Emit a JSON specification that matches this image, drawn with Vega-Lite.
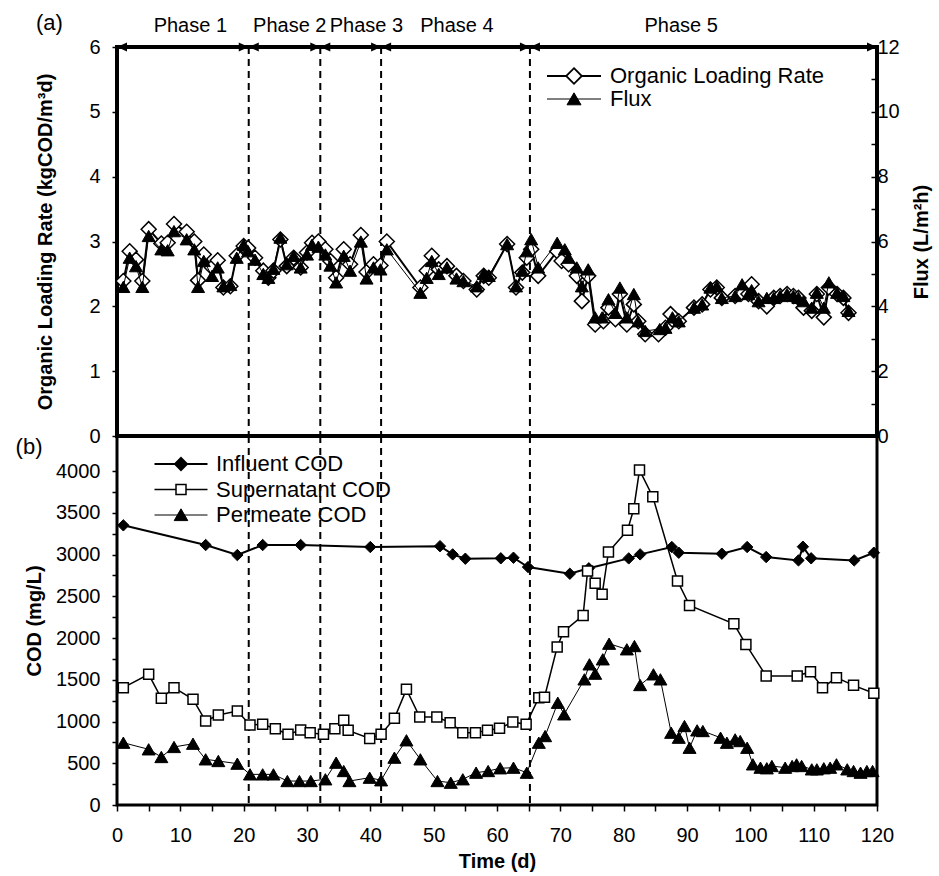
{
  "$schema": "https://vega.github.io/schema/vega-lite/v6.json",
  "background": "white",
  "padding": {"left": 13, "top": 10, "right": 5, "bottom": 5},
  "spacing": 0,
  "bounds": "flush",
  "config": {
    "font": "Liberation Sans",
    "view": {"stroke": "black", "strokeWidth": 4},
    "axis": {
      "grid": false, "labelFont": "Liberation Sans", "titleFont": "Liberation Sans",
      "labelColor": "black", "titleColor": "black", "tickColor": "black",
      "labelFontSize": 20, "titleFontSize": 20, "titleFontWeight": "bold",
      "tickWidth": 1.5, "labelFlush": false, "labelOverlap": false, "labelBound": false
    },
    "legend": {"labelFont": "Liberation Sans", "labelFontSize": 22, "labelColor": "black", "labelLimit": 0}
  },
  "datasets": {
    "phases": [
      {"phase": "Phase 1", "start": 0, "end": 20.8},
      {"phase": "Phase 2", "start": 20.8, "end": 32.1},
      {"phase": "Phase 3", "start": 32.1, "end": 41.7},
      {"phase": "Phase 4", "start": 41.7, "end": 65.2},
      {"phase": "Phase 5", "start": 65.2, "end": 120}
    ],
    "top": [
      {"series": "Organic Loading Rate", "day": 1, "value": 2.39},
      {"series": "Organic Loading Rate", "day": 2, "value": 2.85},
      {"series": "Organic Loading Rate", "day": 3, "value": 2.72},
      {"series": "Organic Loading Rate", "day": 4, "value": 2.39},
      {"series": "Organic Loading Rate", "day": 5, "value": 3.19},
      {"series": "Organic Loading Rate", "day": 7, "value": 2.97},
      {"series": "Organic Loading Rate", "day": 8, "value": 2.98},
      {"series": "Organic Loading Rate", "day": 9, "value": 3.27},
      {"series": "Organic Loading Rate", "day": 11, "value": 3.15},
      {"series": "Organic Loading Rate", "day": 12.2, "value": 3.0},
      {"series": "Organic Loading Rate", "day": 12.8, "value": 2.4},
      {"series": "Organic Loading Rate", "day": 13.7, "value": 2.8},
      {"series": "Organic Loading Rate", "day": 15, "value": 2.6},
      {"series": "Organic Loading Rate", "day": 15.9, "value": 2.71},
      {"series": "Organic Loading Rate", "day": 16.8, "value": 2.29},
      {"series": "Organic Loading Rate", "day": 17.9, "value": 2.31},
      {"series": "Organic Loading Rate", "day": 18.9, "value": 2.78},
      {"series": "Organic Loading Rate", "day": 20, "value": 2.93},
      {"series": "Organic Loading Rate", "day": 20.7, "value": 2.9},
      {"series": "Organic Loading Rate", "day": 21.8, "value": 2.75},
      {"series": "Organic Loading Rate", "day": 23.1, "value": 2.55},
      {"series": "Organic Loading Rate", "day": 23.9, "value": 2.44},
      {"series": "Organic Loading Rate", "day": 24.7, "value": 2.55},
      {"series": "Organic Loading Rate", "day": 25.8, "value": 3.03},
      {"series": "Organic Loading Rate", "day": 26.8, "value": 2.62},
      {"series": "Organic Loading Rate", "day": 27.9, "value": 2.75},
      {"series": "Organic Loading Rate", "day": 29, "value": 2.6},
      {"series": "Organic Loading Rate", "day": 30, "value": 2.83},
      {"series": "Organic Loading Rate", "day": 30.8, "value": 2.98},
      {"series": "Organic Loading Rate", "day": 31.8, "value": 3.0},
      {"series": "Organic Loading Rate", "day": 32.9, "value": 2.88},
      {"series": "Organic Loading Rate", "day": 33.7, "value": 2.7},
      {"series": "Organic Loading Rate", "day": 34.6, "value": 2.44},
      {"series": "Organic Loading Rate", "day": 35.8, "value": 2.88},
      {"series": "Organic Loading Rate", "day": 36.8, "value": 2.65},
      {"series": "Organic Loading Rate", "day": 38.5, "value": 3.1},
      {"series": "Organic Loading Rate", "day": 39.4, "value": 2.53},
      {"series": "Organic Loading Rate", "day": 40.5, "value": 2.65},
      {"series": "Organic Loading Rate", "day": 41.6, "value": 2.63},
      {"series": "Organic Loading Rate", "day": 42.6, "value": 3.0},
      {"series": "Organic Loading Rate", "day": 47.9, "value": 2.29},
      {"series": "Organic Loading Rate", "day": 48.9, "value": 2.55},
      {"series": "Organic Loading Rate", "day": 49.7, "value": 2.78},
      {"series": "Organic Loading Rate", "day": 50.8, "value": 2.57},
      {"series": "Organic Loading Rate", "day": 52.1, "value": 2.62},
      {"series": "Organic Loading Rate", "day": 53.6, "value": 2.47},
      {"series": "Organic Loading Rate", "day": 54.7, "value": 2.39},
      {"series": "Organic Loading Rate", "day": 56.8, "value": 2.26},
      {"series": "Organic Loading Rate", "day": 57.9, "value": 2.47},
      {"series": "Organic Loading Rate", "day": 58.7, "value": 2.44},
      {"series": "Organic Loading Rate", "day": 61.6, "value": 2.96},
      {"series": "Organic Loading Rate", "day": 63, "value": 2.29},
      {"series": "Organic Loading Rate", "day": 64, "value": 2.52},
      {"series": "Organic Loading Rate", "day": 64.7, "value": 2.75},
      {"series": "Organic Loading Rate", "day": 65.4, "value": 2.88},
      {"series": "Organic Loading Rate", "day": 66.5, "value": 2.47},
      {"series": "Organic Loading Rate", "day": 69.5, "value": 2.85},
      {"series": "Organic Loading Rate", "day": 70.2, "value": 2.7},
      {"series": "Organic Loading Rate", "day": 71.3, "value": 2.65},
      {"series": "Organic Loading Rate", "day": 72.6, "value": 2.47},
      {"series": "Organic Loading Rate", "day": 73.4, "value": 2.08},
      {"series": "Organic Loading Rate", "day": 74.4, "value": 2.47},
      {"series": "Organic Loading Rate", "day": 75.5, "value": 1.72},
      {"series": "Organic Loading Rate", "day": 76.8, "value": 1.77},
      {"series": "Organic Loading Rate", "day": 77.6, "value": 1.98},
      {"series": "Organic Loading Rate", "day": 78.7, "value": 1.8},
      {"series": "Organic Loading Rate", "day": 79.4, "value": 2.19},
      {"series": "Organic Loading Rate", "day": 80.5, "value": 1.72},
      {"series": "Organic Loading Rate", "day": 81.6, "value": 2.03},
      {"series": "Organic Loading Rate", "day": 82.3, "value": 1.77},
      {"series": "Organic Loading Rate", "day": 83.4, "value": 1.57},
      {"series": "Organic Loading Rate", "day": 85.5, "value": 1.57},
      {"series": "Organic Loading Rate", "day": 86.6, "value": 1.67},
      {"series": "Organic Loading Rate", "day": 87.4, "value": 1.88},
      {"series": "Organic Loading Rate", "day": 88.7, "value": 1.77},
      {"series": "Organic Loading Rate", "day": 91.1, "value": 1.98},
      {"series": "Organic Loading Rate", "day": 92.4, "value": 2.03},
      {"series": "Organic Loading Rate", "day": 93.7, "value": 2.26},
      {"series": "Organic Loading Rate", "day": 94.7, "value": 2.29},
      {"series": "Organic Loading Rate", "day": 95.5, "value": 2.13},
      {"series": "Organic Loading Rate", "day": 97.6, "value": 2.16},
      {"series": "Organic Loading Rate", "day": 98.7, "value": 2.21},
      {"series": "Organic Loading Rate", "day": 99.7, "value": 2.19},
      {"series": "Organic Loading Rate", "day": 100.2, "value": 2.34},
      {"series": "Organic Loading Rate", "day": 101.3, "value": 2.08},
      {"series": "Organic Loading Rate", "day": 102.6, "value": 2.0},
      {"series": "Organic Loading Rate", "day": 103.7, "value": 2.13},
      {"series": "Organic Loading Rate", "day": 104.7, "value": 2.16},
      {"series": "Organic Loading Rate", "day": 105.8, "value": 2.19},
      {"series": "Organic Loading Rate", "day": 106.8, "value": 2.16},
      {"series": "Organic Loading Rate", "day": 107.6, "value": 2.13},
      {"series": "Organic Loading Rate", "day": 108.4, "value": 1.98},
      {"series": "Organic Loading Rate", "day": 109.7, "value": 1.93},
      {"series": "Organic Loading Rate", "day": 110.5, "value": 2.19},
      {"series": "Organic Loading Rate", "day": 111.6, "value": 1.83},
      {"series": "Organic Loading Rate", "day": 112.4, "value": 2.29},
      {"series": "Organic Loading Rate", "day": 113.7, "value": 2.19},
      {"series": "Organic Loading Rate", "day": 114.7, "value": 2.13},
      {"series": "Organic Loading Rate", "day": 115.5, "value": 1.9},
      {"series": "Flux", "day": 1, "value": 4.6},
      {"series": "Flux", "day": 2, "value": 5.5},
      {"series": "Flux", "day": 3, "value": 5.24},
      {"series": "Flux", "day": 4, "value": 4.6},
      {"series": "Flux", "day": 5, "value": 6.17},
      {"series": "Flux", "day": 7, "value": 5.76},
      {"series": "Flux", "day": 8, "value": 5.73},
      {"series": "Flux", "day": 9, "value": 6.32},
      {"series": "Flux", "day": 11, "value": 6.07},
      {"series": "Flux", "day": 12.2, "value": 5.76},
      {"series": "Flux", "day": 12.8, "value": 4.6},
      {"series": "Flux", "day": 13.7, "value": 5.4},
      {"series": "Flux", "day": 15, "value": 4.94},
      {"series": "Flux", "day": 15.9, "value": 5.2},
      {"series": "Flux", "day": 16.8, "value": 4.62},
      {"series": "Flux", "day": 17.9, "value": 4.66},
      {"series": "Flux", "day": 18.9, "value": 5.5},
      {"series": "Flux", "day": 20, "value": 5.9},
      {"series": "Flux", "day": 20.7, "value": 5.7},
      {"series": "Flux", "day": 21.8, "value": 5.44},
      {"series": "Flux", "day": 23.1, "value": 5.0},
      {"series": "Flux", "day": 23.9, "value": 4.88},
      {"series": "Flux", "day": 24.7, "value": 5.16},
      {"series": "Flux", "day": 25.8, "value": 6.12},
      {"series": "Flux", "day": 26.8, "value": 5.3},
      {"series": "Flux", "day": 27.9, "value": 5.56},
      {"series": "Flux", "day": 29, "value": 5.2},
      {"series": "Flux", "day": 30, "value": 5.6},
      {"series": "Flux", "day": 30.8, "value": 5.9},
      {"series": "Flux", "day": 31.8, "value": 5.84},
      {"series": "Flux", "day": 32.9, "value": 5.6},
      {"series": "Flux", "day": 33.7, "value": 5.26},
      {"series": "Flux", "day": 34.6, "value": 4.74},
      {"series": "Flux", "day": 35.8, "value": 5.56},
      {"series": "Flux", "day": 36.8, "value": 5.1},
      {"series": "Flux", "day": 38.5, "value": 6.0},
      {"series": "Flux", "day": 39.4, "value": 4.86},
      {"series": "Flux", "day": 40.5, "value": 5.2},
      {"series": "Flux", "day": 41.6, "value": 5.14},
      {"series": "Flux", "day": 42.6, "value": 5.76},
      {"series": "Flux", "day": 47.9, "value": 4.42},
      {"series": "Flux", "day": 48.9, "value": 4.88},
      {"series": "Flux", "day": 49.7, "value": 5.4},
      {"series": "Flux", "day": 50.8, "value": 5.0},
      {"series": "Flux", "day": 52.1, "value": 5.2},
      {"series": "Flux", "day": 53.6, "value": 4.86},
      {"series": "Flux", "day": 54.7, "value": 4.78},
      {"series": "Flux", "day": 56.8, "value": 4.62},
      {"series": "Flux", "day": 57.9, "value": 5.0},
      {"series": "Flux", "day": 58.7, "value": 4.94},
      {"series": "Flux", "day": 61.6, "value": 5.92},
      {"series": "Flux", "day": 63, "value": 4.62},
      {"series": "Flux", "day": 64, "value": 5.1},
      {"series": "Flux", "day": 64.7, "value": 5.7},
      {"series": "Flux", "day": 65.4, "value": 6.07},
      {"series": "Flux", "day": 66.5, "value": 5.2},
      {"series": "Flux", "day": 69.5, "value": 5.96},
      {"series": "Flux", "day": 70.7, "value": 5.76},
      {"series": "Flux", "day": 71.3, "value": 5.5},
      {"series": "Flux", "day": 72.6, "value": 5.2},
      {"series": "Flux", "day": 73.4, "value": 4.62},
      {"series": "Flux", "day": 74.4, "value": 5.14},
      {"series": "Flux", "day": 75.5, "value": 3.66},
      {"series": "Flux", "day": 76.6, "value": 3.66},
      {"series": "Flux", "day": 77.6, "value": 4.22},
      {"series": "Flux", "day": 78.7, "value": 3.8},
      {"series": "Flux", "day": 79.4, "value": 4.58},
      {"series": "Flux", "day": 80.5, "value": 3.66},
      {"series": "Flux", "day": 81.6, "value": 4.38},
      {"series": "Flux", "day": 82.3, "value": 3.54},
      {"series": "Flux", "day": 83.4, "value": 3.24},
      {"series": "Flux", "day": 85.7, "value": 3.3},
      {"series": "Flux", "day": 86.6, "value": 3.34},
      {"series": "Flux", "day": 87.7, "value": 3.66},
      {"series": "Flux", "day": 88.7, "value": 3.54},
      {"series": "Flux", "day": 91.1, "value": 3.96},
      {"series": "Flux", "day": 92.4, "value": 4.06},
      {"series": "Flux", "day": 93.7, "value": 4.58},
      {"series": "Flux", "day": 94.7, "value": 4.62},
      {"series": "Flux", "day": 95.5, "value": 4.26},
      {"series": "Flux", "day": 97.6, "value": 4.32},
      {"series": "Flux", "day": 98.7, "value": 4.68},
      {"series": "Flux", "day": 99.7, "value": 4.38},
      {"series": "Flux", "day": 100.2, "value": 4.5},
      {"series": "Flux", "day": 101.3, "value": 4.16},
      {"series": "Flux", "day": 102.6, "value": 4.26},
      {"series": "Flux", "day": 103.7, "value": 4.26},
      {"series": "Flux", "day": 104.7, "value": 4.32},
      {"series": "Flux", "day": 105.8, "value": 4.38},
      {"series": "Flux", "day": 106.8, "value": 4.32},
      {"series": "Flux", "day": 107.6, "value": 4.26},
      {"series": "Flux", "day": 108.4, "value": 4.16},
      {"series": "Flux", "day": 109.7, "value": 3.96},
      {"series": "Flux", "day": 110.5, "value": 4.42},
      {"series": "Flux", "day": 111.6, "value": 3.96},
      {"series": "Flux", "day": 112.4, "value": 4.74},
      {"series": "Flux", "day": 113.7, "value": 4.42},
      {"series": "Flux", "day": 114.7, "value": 4.32},
      {"series": "Flux", "day": 115.5, "value": 3.86}
    ],
    "bottom": [
      {"series": "Influent COD", "day": 1, "value": 3350},
      {"series": "Influent COD", "day": 14, "value": 3114},
      {"series": "Influent COD", "day": 19, "value": 2994},
      {"series": "Influent COD", "day": 23, "value": 3114},
      {"series": "Influent COD", "day": 29, "value": 3114},
      {"series": "Influent COD", "day": 40, "value": 3090},
      {"series": "Influent COD", "day": 51, "value": 3100},
      {"series": "Influent COD", "day": 53, "value": 3002},
      {"series": "Influent COD", "day": 55, "value": 2950},
      {"series": "Influent COD", "day": 60.6, "value": 2955},
      {"series": "Influent COD", "day": 62.6, "value": 2962},
      {"series": "Influent COD", "day": 64.9, "value": 2850},
      {"series": "Influent COD", "day": 71.5, "value": 2770},
      {"series": "Influent COD", "day": 74.5, "value": 2835},
      {"series": "Influent COD", "day": 80.8, "value": 2954},
      {"series": "Influent COD", "day": 82.6, "value": 3002},
      {"series": "Influent COD", "day": 87.6, "value": 3090},
      {"series": "Influent COD", "day": 88.7, "value": 3022},
      {"series": "Influent COD", "day": 95.5, "value": 3010},
      {"series": "Influent COD", "day": 99.5, "value": 3090},
      {"series": "Influent COD", "day": 102.5, "value": 2970},
      {"series": "Influent COD", "day": 107.6, "value": 2930},
      {"series": "Influent COD", "day": 108.3, "value": 3094},
      {"series": "Influent COD", "day": 109.6, "value": 2955},
      {"series": "Influent COD", "day": 116.4, "value": 2930},
      {"series": "Influent COD", "day": 119.5, "value": 3022},
      {"series": "Supernatant COD", "day": 1, "value": 1405},
      {"series": "Supernatant COD", "day": 5, "value": 1565},
      {"series": "Supernatant COD", "day": 7, "value": 1278},
      {"series": "Supernatant COD", "day": 9, "value": 1405},
      {"series": "Supernatant COD", "day": 12, "value": 1266},
      {"series": "Supernatant COD", "day": 14, "value": 1006},
      {"series": "Supernatant COD", "day": 16, "value": 1078},
      {"series": "Supernatant COD", "day": 19, "value": 1126},
      {"series": "Supernatant COD", "day": 21, "value": 958},
      {"series": "Supernatant COD", "day": 23, "value": 966},
      {"series": "Supernatant COD", "day": 25, "value": 914},
      {"series": "Supernatant COD", "day": 27, "value": 846},
      {"series": "Supernatant COD", "day": 29, "value": 898},
      {"series": "Supernatant COD", "day": 30.5, "value": 866},
      {"series": "Supernatant COD", "day": 32.6, "value": 846},
      {"series": "Supernatant COD", "day": 34.4, "value": 914},
      {"series": "Supernatant COD", "day": 35.8, "value": 1014},
      {"series": "Supernatant COD", "day": 36.5, "value": 894},
      {"series": "Supernatant COD", "day": 39.9, "value": 798},
      {"series": "Supernatant COD", "day": 41.7, "value": 846},
      {"series": "Supernatant COD", "day": 43.8, "value": 1038},
      {"series": "Supernatant COD", "day": 45.7, "value": 1385},
      {"series": "Supernatant COD", "day": 47.8, "value": 1054},
      {"series": "Supernatant COD", "day": 50.5, "value": 1054},
      {"series": "Supernatant COD", "day": 52.6, "value": 986},
      {"series": "Supernatant COD", "day": 54.6, "value": 866},
      {"series": "Supernatant COD", "day": 56.6, "value": 866},
      {"series": "Supernatant COD", "day": 58.5, "value": 894},
      {"series": "Supernatant COD", "day": 60.4, "value": 918},
      {"series": "Supernatant COD", "day": 62.5, "value": 994},
      {"series": "Supernatant COD", "day": 64.6, "value": 966},
      {"series": "Supernatant COD", "day": 66.6, "value": 1285},
      {"series": "Supernatant COD", "day": 67.5, "value": 1290},
      {"series": "Supernatant COD", "day": 69.5, "value": 1892},
      {"series": "Supernatant COD", "day": 70.5, "value": 2075},
      {"series": "Supernatant COD", "day": 73.6, "value": 2271},
      {"series": "Supernatant COD", "day": 74.3, "value": 2802},
      {"series": "Supernatant COD", "day": 75.5, "value": 2655},
      {"series": "Supernatant COD", "day": 76.6, "value": 2523},
      {"series": "Supernatant COD", "day": 77.6, "value": 3030},
      {"series": "Supernatant COD", "day": 80.6, "value": 3290},
      {"series": "Supernatant COD", "day": 81.6, "value": 3549},
      {"series": "Supernatant COD", "day": 82.5, "value": 4012},
      {"series": "Supernatant COD", "day": 84.6, "value": 3692},
      {"series": "Supernatant COD", "day": 88.5, "value": 2683},
      {"series": "Supernatant COD", "day": 90.4, "value": 2391},
      {"series": "Supernatant COD", "day": 97.4, "value": 2171},
      {"series": "Supernatant COD", "day": 99.3, "value": 1924},
      {"series": "Supernatant COD", "day": 102.5, "value": 1545},
      {"series": "Supernatant COD", "day": 107.4, "value": 1545},
      {"series": "Supernatant COD", "day": 109.5, "value": 1597},
      {"series": "Supernatant COD", "day": 111.4, "value": 1405},
      {"series": "Supernatant COD", "day": 113.6, "value": 1525},
      {"series": "Supernatant COD", "day": 116.3, "value": 1433},
      {"series": "Supernatant COD", "day": 119.5, "value": 1338},
      {"series": "Permeate COD", "day": 1, "value": 746},
      {"series": "Permeate COD", "day": 5, "value": 667},
      {"series": "Permeate COD", "day": 7, "value": 575},
      {"series": "Permeate COD", "day": 9, "value": 695},
      {"series": "Permeate COD", "day": 12, "value": 734},
      {"series": "Permeate COD", "day": 14, "value": 547},
      {"series": "Permeate COD", "day": 16, "value": 527},
      {"series": "Permeate COD", "day": 19, "value": 495},
      {"series": "Permeate COD", "day": 21, "value": 367},
      {"series": "Permeate COD", "day": 23, "value": 367},
      {"series": "Permeate COD", "day": 24.7, "value": 367},
      {"series": "Permeate COD", "day": 26.9, "value": 287},
      {"series": "Permeate COD", "day": 28.8, "value": 287},
      {"series": "Permeate COD", "day": 30.6, "value": 287},
      {"series": "Permeate COD", "day": 32.9, "value": 308},
      {"series": "Permeate COD", "day": 34.6, "value": 507},
      {"series": "Permeate COD", "day": 35.8, "value": 407},
      {"series": "Permeate COD", "day": 36.7, "value": 287},
      {"series": "Permeate COD", "day": 39.9, "value": 327},
      {"series": "Permeate COD", "day": 41.7, "value": 296},
      {"series": "Permeate COD", "day": 43.8, "value": 567},
      {"series": "Permeate COD", "day": 45.7, "value": 775},
      {"series": "Permeate COD", "day": 47.9, "value": 547},
      {"series": "Permeate COD", "day": 50.6, "value": 287},
      {"series": "Permeate COD", "day": 52.7, "value": 267},
      {"series": "Permeate COD", "day": 54.6, "value": 308},
      {"series": "Permeate COD", "day": 56.7, "value": 387},
      {"series": "Permeate COD", "day": 58.6, "value": 407},
      {"series": "Permeate COD", "day": 60.5, "value": 440},
      {"series": "Permeate COD", "day": 62.6, "value": 447},
      {"series": "Permeate COD", "day": 64.7, "value": 387},
      {"series": "Permeate COD", "day": 66.6, "value": 746},
      {"series": "Permeate COD", "day": 67.6, "value": 826},
      {"series": "Permeate COD", "day": 69.6, "value": 1225},
      {"series": "Permeate COD", "day": 70.6, "value": 1086},
      {"series": "Permeate COD", "day": 73.8, "value": 1505},
      {"series": "Permeate COD", "day": 74.6, "value": 1685},
      {"series": "Permeate COD", "day": 75.5, "value": 1573},
      {"series": "Permeate COD", "day": 76.7, "value": 1745},
      {"series": "Permeate COD", "day": 77.7, "value": 1932},
      {"series": "Permeate COD", "day": 80.5, "value": 1865},
      {"series": "Permeate COD", "day": 81.7, "value": 1904},
      {"series": "Permeate COD", "day": 82.6, "value": 1437},
      {"series": "Permeate COD", "day": 84.7, "value": 1565},
      {"series": "Permeate COD", "day": 85.8, "value": 1505},
      {"series": "Permeate COD", "day": 87.5, "value": 866},
      {"series": "Permeate COD", "day": 88.7, "value": 806},
      {"series": "Permeate COD", "day": 89.6, "value": 946},
      {"series": "Permeate COD", "day": 90.4, "value": 686},
      {"series": "Permeate COD", "day": 91.6, "value": 894},
      {"series": "Permeate COD", "day": 92.5, "value": 886},
      {"series": "Permeate COD", "day": 95.3, "value": 806},
      {"series": "Permeate COD", "day": 96.3, "value": 746},
      {"series": "Permeate COD", "day": 97.6, "value": 786},
      {"series": "Permeate COD", "day": 98.4, "value": 766},
      {"series": "Permeate COD", "day": 99.5, "value": 686},
      {"series": "Permeate COD", "day": 100.4, "value": 487},
      {"series": "Permeate COD", "day": 101.6, "value": 447},
      {"series": "Permeate COD", "day": 102.6, "value": 440},
      {"series": "Permeate COD", "day": 103.4, "value": 467},
      {"series": "Permeate COD", "day": 105.5, "value": 447},
      {"series": "Permeate COD", "day": 106.6, "value": 467},
      {"series": "Permeate COD", "day": 107.3, "value": 487},
      {"series": "Permeate COD", "day": 108.1, "value": 467},
      {"series": "Permeate COD", "day": 109.7, "value": 427},
      {"series": "Permeate COD", "day": 110.5, "value": 427},
      {"series": "Permeate COD", "day": 111.6, "value": 440},
      {"series": "Permeate COD", "day": 112.6, "value": 447},
      {"series": "Permeate COD", "day": 113.6, "value": 487},
      {"series": "Permeate COD", "day": 115.3, "value": 427},
      {"series": "Permeate COD", "day": 116.3, "value": 407},
      {"series": "Permeate COD", "day": 117.4, "value": 387},
      {"series": "Permeate COD", "day": 118.4, "value": 407},
      {"series": "Permeate COD", "day": 119.3, "value": 407}
    ]
  },
  "vconcat": [
    {
      "width": 760,
      "height": 389,
      "title": {"text": "(a)", "anchor": "start", "frame": "bounds", "fontSize": 22, "fontWeight": "normal", "font": "Liberation Sans", "color": "black", "offset": -20},
      "view": {"stroke": "black", "strokeWidth": 4},
      "layer": [
        {
          "layer": [
            {
              "data": {"name": "phases"},
              "transform": [{"filter": "datum.start > 0"}],
              "mark": {"type": "rule", "color": "black", "strokeWidth": 2, "strokeDash": [7, 5]},
              "encoding": {
                "x": {"field": "start", "type": "quantitative", "scale": {"domain": [0, 120], "nice": false}, "axis": null}
              }
            },
            {
              "data": {"name": "top"},
              "transform": [{"filter": "datum.series === 'Organic Loading Rate'"}],
              "mark": {"type": "line", "color": "black", "strokeWidth": 2},
              "encoding": {
                "x": {"field": "day", "type": "quantitative", "scale": {"domain": [0, 120], "nice": false}, "axis": null},
                "y": {
                  "field": "value", "type": "quantitative", "scale": {"domain": [0, 6], "nice": false},
                  "axis": {
                    "orient": "left", "values": [0, 0.5, 1, 1.5, 2, 2.5, 3, 3.5, 4, 4.5, 5, 5.5, 6],
                    "format": "d", "labelExpr": "datum.value % 1 === 0 ? datum.label : ''",
                    "tickSize": 5, "labelPadding": 12, "domain": false,
                    "title": "Organic Loading Rate (kgCOD/m³d)", "titlePadding": 33
                  }
                }
              }
            },
            {
              "data": {"name": "top"},
              "transform": [{"filter": "datum.series === 'Organic Loading Rate'"}],
              "mark": {"type": "point", "shape": "diamond", "filled": true, "opacity": 1, "stroke": "black", "strokeWidth": 1.5, "size": 225},
              "encoding": {
                "x": {"field": "day", "type": "quantitative", "scale": {"domain": [0, 120], "nice": false}, "axis": null},
                "y": {"field": "value", "type": "quantitative", "scale": {"domain": [0, 6], "nice": false}, "axis": null},
                "fill": {
                  "field": "series", "type": "nominal",
                  "scale": {"domain": ["Organic Loading Rate"], "range": ["white"]},
                  "legend": {
                    "title": null, "orient": "none", "legendX": 446, "legendY": 18, "symbolSize": 400,
                    "symbolType": "M-2.7,0H-0.78M0.78,0H2.7M0,-0.78L0.78,0L0,0.78L-0.78,0Z",
                    "symbolStrokeWidth": 1.8, "symbolStrokeColor": "black", "symbolOpacity": 1,
                    "labelOffset": 25, "labelFontSize": 22, "padding": 0, "labelLimit": 0
                  }
                }
              }
            }
          ],
          "resolve": {"axis": {"x": "independent", "y": "independent"}}
        },
        {
          "layer": [
            {
              "data": {"name": "top"},
              "transform": [{"filter": "datum.series === 'Flux'"}],
              "mark": {"type": "line", "color": "black", "strokeWidth": 1},
              "encoding": {
                "x": {"field": "day", "type": "quantitative", "scale": {"domain": [0, 120], "nice": false}, "axis": null},
                "y": {
                  "field": "value", "type": "quantitative", "scale": {"domain": [0, 12], "nice": false},
                  "axis": {
                    "orient": "right", "values": [0, 1, 2, 3, 4, 5, 6, 7, 8, 9, 10, 11, 12],
                    "format": "d", "labelExpr": "datum.value % 2 === 0 ? datum.label : ''",
                    "tickSize": -6, "labelPadding": 6, "domain": false,
                    "title": "Flux (L/m²h)", "titleAngle": 270, "titleBaseline": "top", "titlePadding": 12
                  }
                }
              }
            },
            {
              "data": {"name": "top"},
              "transform": [{"filter": "datum.series === 'Flux'"}],
              "mark": {"type": "point", "shape": "triangle-up", "filled": true, "opacity": 1, "stroke": "black", "strokeWidth": 1, "size": 170},
              "encoding": {
                "x": {"field": "day", "type": "quantitative", "scale": {"domain": [0, 120], "nice": false}, "axis": null},
                "y": {"field": "value", "type": "quantitative", "scale": {"domain": [0, 12], "nice": false}, "axis": null},
                "fill": {
                  "field": "series", "type": "nominal",
                  "scale": {"domain": ["Flux"], "range": ["black"]},
                  "legend": {
                    "title": null, "orient": "none", "legendX": 446, "legendY": 41, "symbolSize": 400,
                    "symbolType": "M-2.7,0H2.7M0,-0.62L0.7,0.58L-0.7,0.58Z",
                    "symbolStrokeWidth": 1, "symbolStrokeColor": "black", "symbolOpacity": 1,
                    "labelOffset": 25, "labelFontSize": 22, "padding": 0, "labelLimit": 0
                  }
                }
              }
            }
          ],
          "resolve": {"axis": {"x": "independent", "y": "independent"}}
        },
        {
          "data": {"name": "phases"},
          "layer": [
            {
              "mark": {"type": "rule", "color": "black", "strokeWidth": 4},
              "encoding": {
                "x": {
                  "field": "start", "type": "quantitative", "scale": {"domain": [0, 120], "nice": false},
                  "axis": {
                    "orient": "top", "values": [11.5, 27.2, 39.3, 53.6, 89],
                    "labelExpr": "datum.value < 20 ? 'Phase 1' : datum.value < 30 ? 'Phase 2' : datum.value < 45 ? 'Phase 3' : datum.value < 60 ? 'Phase 4' : 'Phase 5'",
                    "ticks": false, "domain": false, "labelPadding": 12, "labelFontSize": 20, "title": null
                  }
                },
                "x2": {"field": "end"},
                "y": {"datum": 6, "type": "quantitative", "scale": {"domain": [0, 6], "nice": false}, "axis": null}
              }
            },
            {
              "mark": {"type": "point", "shape": "M0,0L2,-0.9L2,0.9Z", "size": 100, "filled": true, "color": "black", "opacity": 1},
              "encoding": {
                "x": {"field": "start", "type": "quantitative", "scale": {"domain": [0, 120], "nice": false}, "axis": null},
                "y": {"datum": 6, "type": "quantitative", "scale": {"domain": [0, 6], "nice": false}, "axis": null}
              }
            },
            {
              "mark": {"type": "point", "shape": "M0,0L-2,-0.9L-2,0.9Z", "size": 100, "filled": true, "color": "black", "opacity": 1},
              "encoding": {
                "x": {"field": "end", "type": "quantitative", "scale": {"domain": [0, 120], "nice": false}, "axis": null},
                "y": {"datum": 6, "type": "quantitative", "scale": {"domain": [0, 6], "nice": false}, "axis": null}
              }
            }
          ],
          "resolve": {"axis": {"x": "independent", "y": "independent"}}
        }
      ],
      "resolve": {"scale": {"y": "independent", "fill": "independent"}, "axis": {"x": "independent", "y": "independent"}}
    },
    {
      "width": 760,
      "height": 369,
      "view": {"stroke": "black", "strokeWidth": 3},
      "layer": [
        {
          "data": {"name": "phases"},
          "transform": [{"filter": "datum.start > 0"}],
          "mark": {"type": "rule", "color": "black", "strokeWidth": 2, "strokeDash": [7, 5]},
          "encoding": {
            "x": {"field": "start", "type": "quantitative", "scale": {"domain": [0, 120], "nice": false}, "axis": null}
          }
        },
        {
          "data": {"name": "bottom"},
          "transform": [{"filter": "datum.series === 'Influent COD'"}],
          "mark": {"type": "line", "color": "black", "strokeWidth": 2},
          "encoding": {
            "x": {
              "field": "day", "type": "quantitative", "scale": {"domain": [0, 120], "nice": false},
              "axis": {
                "orient": "bottom", "values": [0, 5, 10, 15, 20, 25, 30, 35, 40, 45, 50, 55, 60, 65, 70, 75, 80, 85, 90, 95, 100, 105, 110, 115, 120],
                "format": "d", "labelExpr": "datum.value % 10 === 0 ? datum.label : ''",
                "tickSize": 6, "labelPadding": 14, "domain": false, "title": "Time (d)", "titlePadding": 6
              }
            },
            "y": {
              "field": "value", "type": "quantitative", "scale": {"domain": [0, 4420], "nice": false},
              "axis": {
                "orient": "left", "values": [0, 250, 500, 750, 1000, 1250, 1500, 1750, 2000, 2250, 2500, 2750, 3000, 3250, 3500, 3750, 4000],
                "format": "d", "labelExpr": "datum.value % 500 === 0 ? datum.label : ''",
                "tickSize": 5, "labelPadding": 12, "domain": false, "title": "COD (mg/L)", "titlePadding": 11
              }
            }
          }
        },
        {
          "data": {"name": "bottom"},
          "transform": [{"filter": "datum.series === 'Supernatant COD'"}],
          "mark": {"type": "line", "color": "black", "strokeWidth": 1.5},
          "encoding": {
            "x": {"field": "day", "type": "quantitative", "scale": {"domain": [0, 120], "nice": false}, "axis": null},
            "y": {
              "field": "value", "type": "quantitative", "scale": {"domain": [0, 4420], "nice": false},
              "axis": {
                "orient": "left", "values": [4300], "labelExpr": "'(b)'", "ticks": false, "domain": false,
                "offset": 75, "labelPadding": 0, "labelFontSize": 22, "title": null
              }
            }
          }
        },
        {
          "data": {"name": "bottom"},
          "transform": [{"filter": "datum.series === 'Permeate COD'"}],
          "mark": {"type": "line", "color": "black", "strokeWidth": 1},
          "encoding": {
            "x": {"field": "day", "type": "quantitative", "scale": {"domain": [0, 120], "nice": false}, "axis": null},
            "y": {"field": "value", "type": "quantitative", "scale": {"domain": [0, 4420], "nice": false}, "axis": null}
          }
        },
        {
          "data": {"name": "bottom"},
          "transform": [{"filter": "datum.series === 'Influent COD'"}],
          "mark": {"type": "point", "shape": "diamond", "filled": true, "opacity": 1, "stroke": "black", "strokeWidth": 1, "size": 130},
          "encoding": {
            "x": {"field": "day", "type": "quantitative", "scale": {"domain": [0, 120], "nice": false}, "axis": null},
            "y": {"field": "value", "type": "quantitative", "scale": {"domain": [0, 4420], "nice": false}, "axis": null},
            "fill": {
              "field": "series", "type": "nominal",
              "scale": {"domain": ["Influent COD"], "range": ["black"]},
              "legend": {
                "title": null, "orient": "none", "legendX": 53, "legendY": 17, "symbolSize": 400,
                "symbolType": "M-2.65,0H2.65M0,-0.6L0.6,0L0,0.6L-0.6,0Z",
                "symbolStrokeWidth": 2, "symbolStrokeColor": "black", "symbolOpacity": 1,
                "labelOffset": 24, "labelFontSize": 22, "padding": 0, "labelLimit": 0
              }
            }
          }
        },
        {
          "data": {"name": "bottom"},
          "transform": [{"filter": "datum.series === 'Supernatant COD'"}],
          "mark": {"type": "point", "shape": "square", "filled": true, "opacity": 1, "stroke": "black", "strokeWidth": 1.5, "size": 100},
          "encoding": {
            "x": {"field": "day", "type": "quantitative", "scale": {"domain": [0, 120], "nice": false}, "axis": null},
            "y": {"field": "value", "type": "quantitative", "scale": {"domain": [0, 4420], "nice": false}, "axis": null},
            "fill": {
              "field": "series", "type": "nominal",
              "scale": {"domain": ["Supernatant COD"], "range": ["white"]},
              "legend": {
                "title": null, "orient": "none", "legendX": 53, "legendY": 42.5, "symbolSize": 400,
                "symbolType": "M-2.65,0H-0.5M0.5,0H2.65M-0.5,-0.5H0.5V0.5H-0.5Z",
                "symbolStrokeWidth": 1.5, "symbolStrokeColor": "black", "symbolOpacity": 1,
                "labelOffset": 24, "labelFontSize": 22, "padding": 0, "labelLimit": 0
              }
            }
          }
        },
        {
          "data": {"name": "bottom"},
          "transform": [{"filter": "datum.series === 'Permeate COD'"}],
          "mark": {"type": "point", "shape": "triangle-up", "filled": true, "opacity": 1, "stroke": "black", "strokeWidth": 1, "size": 170},
          "encoding": {
            "x": {"field": "day", "type": "quantitative", "scale": {"domain": [0, 120], "nice": false}, "axis": null},
            "y": {"field": "value", "type": "quantitative", "scale": {"domain": [0, 4420], "nice": false}, "axis": null},
            "fill": {
              "field": "series", "type": "nominal",
              "scale": {"domain": ["Permeate COD"], "range": ["black"]},
              "legend": {
                "title": null, "orient": "none", "legendX": 53, "legendY": 68, "symbolSize": 400,
                "symbolType": "M-2.65,0H2.65M0,-0.62L0.68,0.56L-0.68,0.56Z",
                "symbolStrokeWidth": 1, "symbolStrokeColor": "black", "symbolOpacity": 1,
                "labelOffset": 24, "labelFontSize": 22, "padding": 0, "labelLimit": 0
              }
            }
          }
        }
      ],
      "resolve": {"scale": {"fill": "independent"}, "axis": {"x": "independent", "y": "independent"}}
    }
  ],
  "resolve": {"scale": {"fill": "independent"}}
}
